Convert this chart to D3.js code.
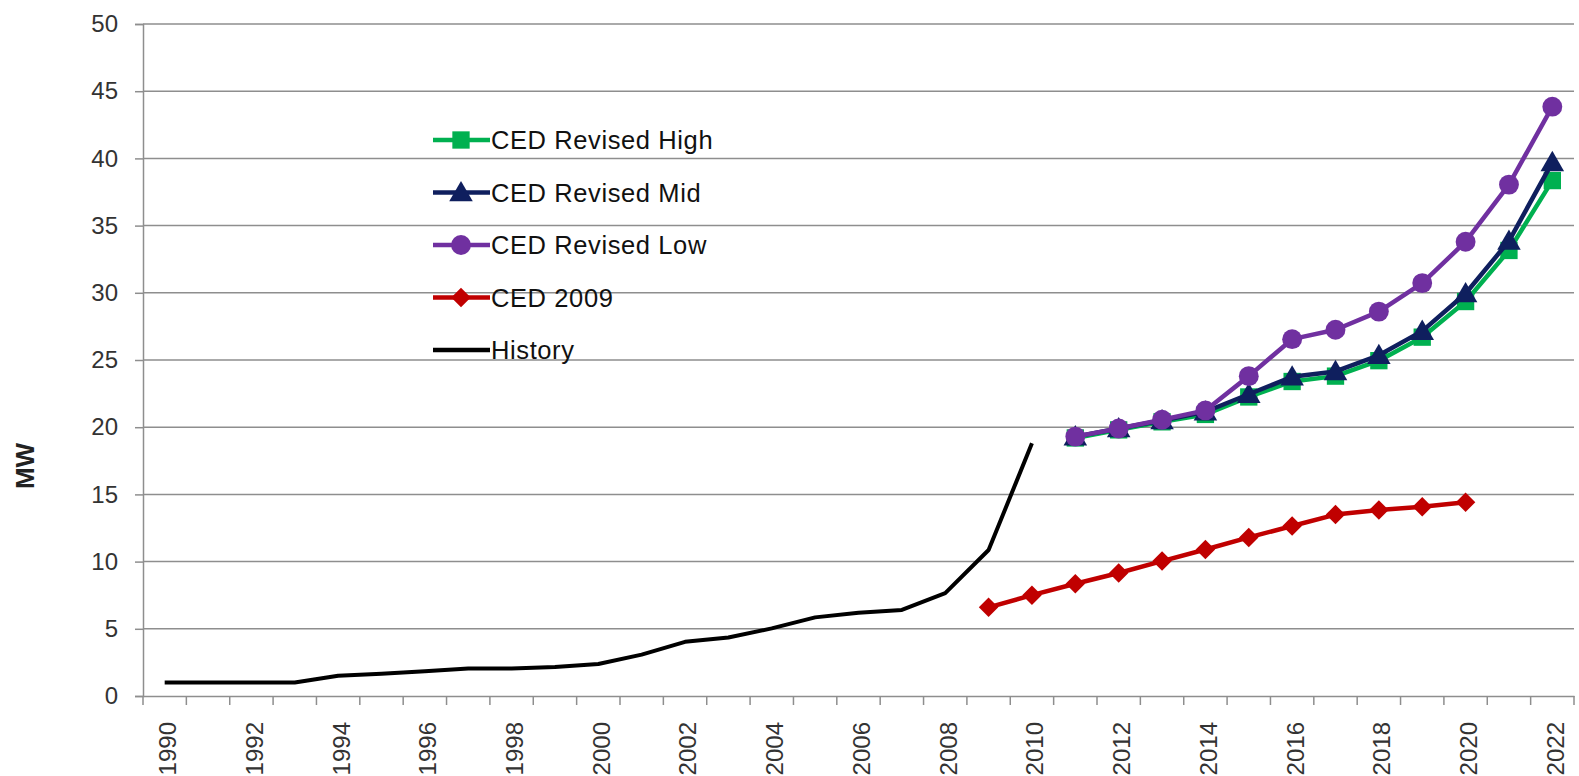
<!DOCTYPE html>
<html>
<head>
<meta charset="utf-8">
<script src="https://cdn.jsdelivr.net/npm/d3@7"></script>
<style>
  html, body { margin: 0; padding: 0; background: #fff; }
  svg { display: block; font-family: "Liberation Sans", Arial, sans-serif; }
</style>
</head>
<body>
<svg id="chart" width="1579" height="776"></svg>
<script>
// categories
const years = d3.range(1990, 2023)
const yTicks = [0, 5, 10, 15, 20, 25, 30, 35, 40, 45, 50]
const xLabelYears = years.filter(y => y % 2 === 0)

// series values (MW)
const historyYears = d3.range(1990, 2011)
const historyVals = [1.0, 1.0, 1.0, 1.0, 1.5, 1.65, 1.85, 2.05, 2.05, 2.15, 2.38, 3.08, 4.03, 4.35, 5.03, 5.85, 6.2, 6.4, 7.65, 10.86, 18.8]

const ced2009Years = d3.range(2009, 2021)
const ced2009Vals = [6.6, 7.5, 8.35, 9.15, 10.04, 10.9, 11.8, 12.65, 13.5, 13.84, 14.08, 14.42]

const revisedYears = d3.range(2011, 2023)
const highVals = [19.2, 19.8, 20.4, 20.95, 22.25, 23.4, 23.8, 24.95, 26.7, 29.35, 33.15, 38.35]
const midVals  = [19.3, 19.9, 20.5, 21.15, 22.45, 23.75, 24.15, 25.35, 27.15, 29.95, 33.85, 39.7]
const lowVals  = [19.3, 19.9, 20.55, 21.25, 23.8, 26.55, 27.25, 28.6, 30.72, 33.8, 38.05, 43.85]

const series = [
  { name: 'CED Revised High', years: revisedYears, vals: highVals, color: '#00B050', marker: 'square' },
  { name: 'CED Revised Mid', years: revisedYears, vals: midVals, color: '#0F1F5E', marker: 'triangle' },
  { name: 'CED Revised Low', years: revisedYears, vals: lowVals, color: '#7030A0', marker: 'circle' },
  { name: 'CED 2009', years: ced2009Years, vals: ced2009Vals, color: '#C00000', marker: 'diamond' },
  { name: 'History', years: historyYears, vals: historyVals, color: '#000000', marker: null }
]

const svg = d3.select('#chart')
const plotLeft = 143, plotRight = 1574, plotTop = 24, plotBottom = 696
const gridColor = '#8e8e8e'

const x = d3.scaleBand().domain(years).range([plotLeft, plotRight]).padding(0)
const y = d3.scaleLinear().domain([0, 50]).range([plotBottom, plotTop])

// gridlines
svg.append('g')
  .selectAll('line')
  .data(yTicks.filter(d => d > 0))
  .enter().append('line')
  .attr('x1', plotLeft).attr('x2', plotRight)
  .attr('y1', d => y(d)).attr('y2', d => y(d))
  .style('stroke', gridColor).style('stroke-width', 1.5)

// y axis
const yAxis = svg.append('g')
  .attr('transform', `translate(${plotLeft},0)`)
  .call(d3.axisLeft(y).tickValues(yTicks).tickSize(8).tickPadding(17))
yAxis.select('.domain').style('stroke', gridColor).style('stroke-width', 1.5)
yAxis.selectAll('.tick line').style('stroke', gridColor).style('stroke-width', 1.5)
yAxis.selectAll('.tick text')
  .style('font-size', '24px').style('fill', '#333')
  .style('font-family', '"Liberation Sans", Arial, sans-serif')

// x axis
const xAxis = svg.append('g')
  .attr('transform', `translate(0,${plotBottom})`)
  .call(d3.axisBottom(x).tickValues(xLabelYears).tickSize(0).tickFormat(d3.format('d')))
xAxis.select('.domain').style('stroke', gridColor).style('stroke-width', 1.5)
xAxis.selectAll('.tick text')
  .attr('transform', 'rotate(-90)')
  .attr('x', -26).attr('y', 3).attr('dy', '0.35em')
  .style('text-anchor', 'end')
  .style('font-size', '24px').style('fill', '#333')
  .style('font-family', '"Liberation Sans", Arial, sans-serif')

// category boundary ticks
svg.append('g')
  .selectAll('line')
  .data(years.concat([null]))
  .enter().append('line')
  .attr('x1', d => d === null ? plotRight : x(d))
  .attr('x2', d => d === null ? plotRight : x(d))
  .attr('y1', plotBottom).attr('y2', plotBottom + 9)
  .style('stroke', gridColor).style('stroke-width', 1.5)

// y title
svg.append('text')
  .attr('transform', 'translate(34,466) rotate(-90)')
  .style('text-anchor', 'middle')
  .style('font-size', '26px').style('font-weight', 'bold')
  .style('fill', '#222')
  .text('MW')

const symbols = {
  square: d3.symbol().type(d3.symbolSquare).size(300),
  triangle: d3.symbol().type(d3.symbolTriangle).size(240),
  circle: d3.symbol().type(d3.symbolCircle).size(310),
  diamond: d3.symbol().type(d3.symbolSquare).size(190)
}
const markerTransform = m => m === 'diamond' ? ' rotate(45)' : ''
const markerDy = m => m === 'triangle' ? 2 : 0

const cx = d => x(d) + x.bandwidth() / 2
const line = d3.line().x(d => cx(d.year)).y(d => y(d.v))

series.forEach(s => {
  const pts = s.years.map((yr, i) => ({ year: yr, v: s.vals[i] }))
  const g = svg.append('g').attr('class', 'series')
  g.append('path')
    .datum(pts)
    .attr('d', line)
    .style('fill', 'none')
    .style('stroke', s.color)
    .style('stroke-width', s.marker ? 4.5 : 4)
    .style('stroke-linejoin', 'round')
  if (s.marker) {
    g.selectAll('path.marker')
      .data(pts)
      .enter().append('path')
      .attr('class', 'marker')
      .attr('d', symbols[s.marker])
      .attr('transform', d => `translate(${cx(d.year)},${y(d.v) + markerDy(s.marker)})${markerTransform(s.marker)}`)
      .style('fill', s.color)
  }
})

// legend
const legend = svg.append('g')
  .selectAll('.legend')
  .data(series)
  .enter().append('g')
  .attr('class', 'legend')
  .attr('transform', (d, i) => `translate(433, ${140 + i * 52.5})`)

legend.append('line')
  .attr('x1', 0).attr('x2', 57)
  .style('stroke', d => d.color)
  .style('stroke-width', 4.5)

legend.filter(d => d.marker)
  .append('path')
  .attr('d', d => symbols[d.marker](d))
  .attr('transform', d => `translate(28,${markerDy(d.marker)})${markerTransform(d.marker)}`)
  .style('fill', d => d.color)

legend.append('text')
  .attr('x', 58).attr('dy', '0.36em')
  .style('font-size', '25.5px').style('fill', '#111')
  .style('letter-spacing', '0.6px')
  .text(d => d.name)
</script>
</body>
</html>
